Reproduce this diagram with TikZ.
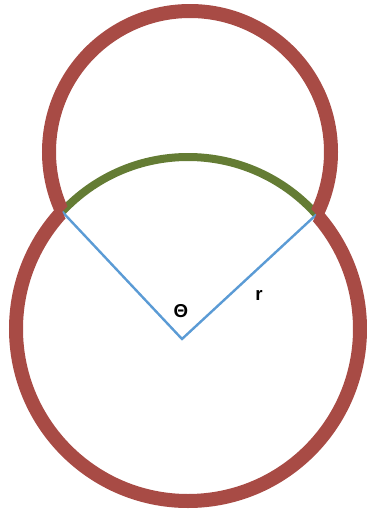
\documentclass[tikz,border=0pt]{standalone}
\usepackage{fontspec}
\setmainfont{Liberation Sans}
\usepackage{tikz}
\usetikzlibrary{intersections, calc}

\definecolor{rimred}{RGB}{168,75,69}
\definecolor{arcgreen}{RGB}{100,124,52}
\definecolor{rayblue}{RGB}{91,155,213}

\begin{document}
\begin{tikzpicture}[
    x=0.75pt, y=-0.75pt,
    rim/.style={draw=rimred, line width=10.5pt},
    arcline/.style={draw=arcgreen, line width=6pt},
    ray/.style={draw=rayblue, line width=1.8pt},
    lbl/.style={font=\fontsize{14}{16}\selectfont\bfseries}
]
    \useasboundingbox (0,0) rectangle (367,511);

    % Centres
    \coordinate (top) at (190,152);
    \coordinate (big) at (188,329);
    \coordinate (O) at (182,339);

    % Where the two circles meet
    \path[name path=topc] (top) circle (141);
    \path[name path=bigc] (big) circle (172);
    \path[name intersections={of=topc and bigc, by={pl,pr}}];

    % Green arc of the lower circle, inside the upper one
    \begin{scope}
        \clip (top) circle (141);
        \draw[arcline] (big) circle (172);
    \end{scope}

    % Radii
    \draw[ray] (pl) -- (O) -- (pr);

    % Outline of the two circles
    \begin{scope}[even odd rule]
        \clip (0,0) rectangle (367,511) (top) circle (141);
        \draw[rim] (big) circle (172);
    \end{scope}
    \begin{scope}[even odd rule]
        \clip (0,0) rectangle (367,511) (big) circle (172);
        \draw[rim] (top) circle (141);
    \end{scope}

    % Labels
    \node[lbl] (theta) at (181,311) {Θ};
    \node[lbl] (rlbl) at (259,295) {r};

\end{tikzpicture}
\end{document}
